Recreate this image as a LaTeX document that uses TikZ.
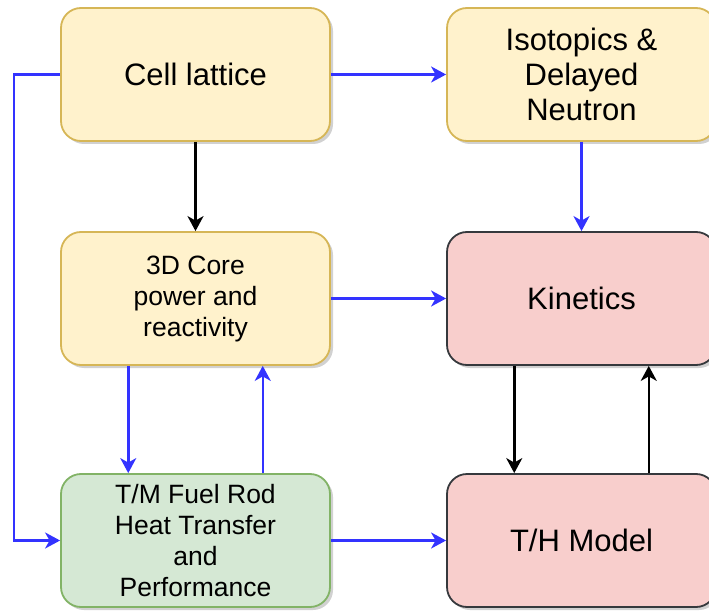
\documentclass[tikz,border=0pt]{standalone}
\usepackage{fontspec}
\setmainfont{Liberation Sans}
\usetikzlibrary{arrows.meta,shadows}
\definecolor{yfill}{HTML}{FFF2CC}
\definecolor{ydraw}{HTML}{D6B656}
\definecolor{gfill}{HTML}{D5E8D4}
\definecolor{gdraw}{HTML}{82B366}
\definecolor{rfill}{HTML}{F8CECC}
\definecolor{rdraw}{HTML}{36393D}
\definecolor{flowblue}{HTML}{3333FF}
\tikzset{
  box/.style={draw, line width=1.8pt, rounded corners=20pt, minimum width=269pt, minimum height=133pt,
    align=center, inner sep=0pt,
    drop shadow={shadow xshift=3pt, shadow yshift=-3pt, fill=black, opacity=0.18}},
  ybox/.style={box, fill=yfill, draw=ydraw},
  gbox/.style={box, fill=gfill, draw=gdraw},
  rbox/.style={box, fill=rfill, draw=rdraw},
  bigtext/.style={font=\fontsize{31}{35}\selectfont},
  smalltext/.style={font=\fontsize{26.5}{31}\selectfont},
  barrow/.style={draw=flowblue, line width=2.5pt, -{Stealth[length=15pt,width=16pt,inset=4.5pt]}},
  karrow/.style={draw=black, line width=2.5pt, -{Stealth[length=15pt,width=16pt,inset=4.5pt]}}
}
\begin{document}
\begin{tikzpicture}[x=1pt,y=-1pt]
\clip (0,0) rectangle (709,612);
\node[ybox, bigtext] (cell) at (195.5,74.5) {Cell lattice};
\node[ybox, bigtext] (iso) at (581.5,74.5) {Isotopics \&\\Delayed\\Neutron};
\node[ybox, smalltext] (core) at (195.5,298.5) {3D Core\\power and\\reactivity};
\node[rbox, bigtext] (kin) at (581.5,298.5) {Kinetics};
\node[gbox, smalltext] (tm) at (195.5,540.5) {T/M Fuel Rod\\Heat Transfer\\and\\Performance};
\node[rbox, bigtext] (th) at (581.5,540.5) {T/H Model};

\draw[barrow] (cell.west) -- ++(-46,0) |- (tm.west);
\draw[barrow] (cell.east) -- (iso.west);
\draw[karrow] (cell.south) -- (core.north);
\draw[barrow] (iso.south) -- (kin.north);
\draw[barrow] (core.east) -- (kin.west);
\draw[barrow] ([xshift=-67.25pt]core.south) -- ([xshift=-67.25pt]tm.north);
\draw[barrow] ([xshift=67.25pt]tm.north) -- ([xshift=67.25pt]core.south);
\draw[karrow] ([xshift=-67.25pt]kin.south) -- ([xshift=-67.25pt]th.north);
\draw[karrow] ([xshift=67.25pt]th.north) -- ([xshift=67.25pt]kin.south);
\draw[barrow] (tm.east) -- (th.west);
\end{tikzpicture}
\end{document}
